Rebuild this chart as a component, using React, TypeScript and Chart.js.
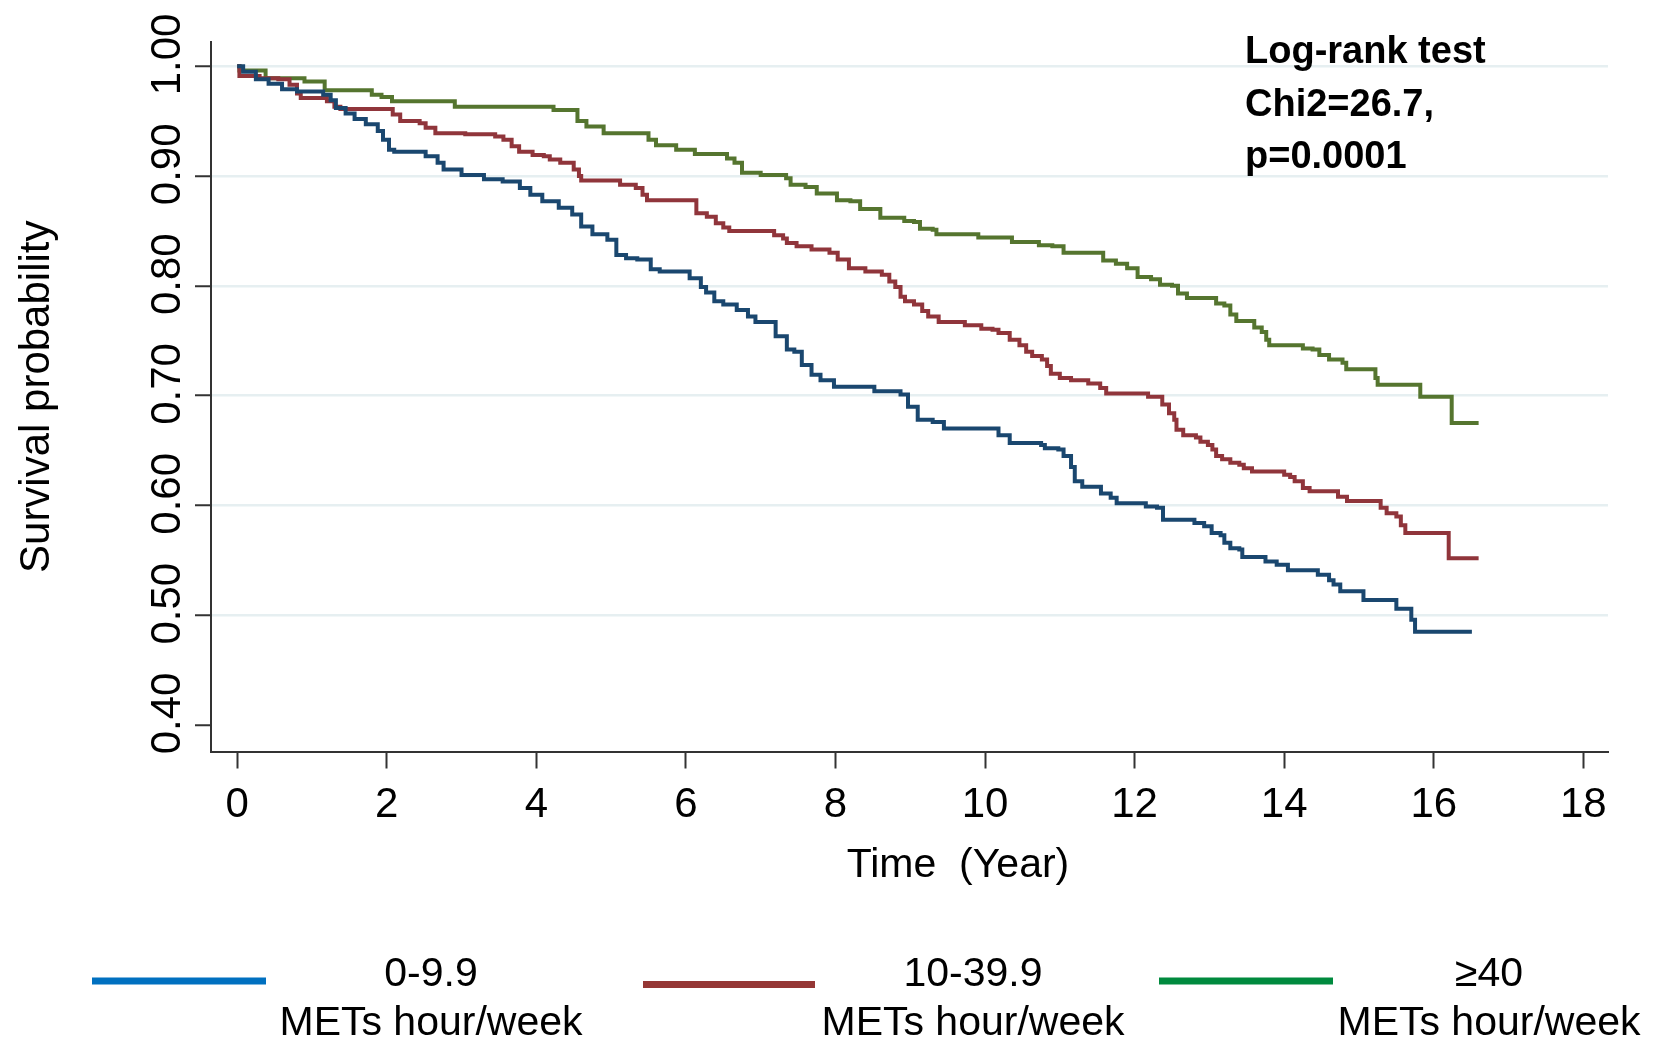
import React, { useEffect, useRef } from 'react';
import { Chart, registerables } from 'chart.js';

Chart.register(...registerables);

const xTickValues = [0, 2, 4, 6, 8, 10, 12, 14, 16, 18];
const yTickValues = [0.4, 0.5, 0.6, 0.7, 0.8, 0.9, 1.0];

const groupRanges = ['0-9.9', '10-39.9', '≥40'];
const unitLabel = 'METs hour/week';
const statLines = ['Log-rank test', 'Chi2=26.7,', 'p=0.0001'];
const xTitle = 'Time  (Year)';
const yTitle = 'Survival probability';

// Group 0-9.9 METs hour/week
const lowTimes = [0, 0.08, 0.25, 0.42, 0.6, 0.8, 1.15, 1.25, 1.32, 1.45, 1.57, 1.72, 1.88, 1.95, 2.03, 2.1, 2.52, 2.68, 2.76, 3.0, 3.3, 3.55, 3.78, 3.92, 4.08, 4.3, 4.48, 4.6, 4.75, 4.95, 5.07, 5.2, 5.35, 5.53, 5.65, 6.05, 6.2, 6.27, 6.38, 6.5, 6.68, 6.83, 6.93, 7.2, 7.35, 7.45, 7.55, 7.68, 7.8, 7.98, 8.52, 8.87, 8.97, 9.1, 9.3, 9.45, 10.18, 10.33, 10.75, 10.8, 10.98, 11.05, 11.15, 11.2, 11.3, 11.55, 11.68, 11.76, 12.15, 12.3, 12.38, 12.8, 12.93, 13.03, 13.15, 13.2, 13.28, 13.4, 13.44, 13.75, 13.9, 14.05, 14.45, 14.6, 14.66, 14.75, 15.06, 15.5, 15.7, 15.75, 16.51];
const lowSurv = [1.0, 0.995, 0.988, 0.984, 0.979, 0.977, 0.974, 0.969, 0.962, 0.957, 0.952, 0.947, 0.941, 0.933, 0.924, 0.922, 0.918, 0.912, 0.906, 0.901, 0.897, 0.895, 0.889, 0.883, 0.877, 0.871, 0.865, 0.854, 0.847, 0.842, 0.828, 0.825, 0.824, 0.815, 0.813, 0.807, 0.799, 0.794, 0.786, 0.783, 0.778, 0.772, 0.767, 0.754, 0.742, 0.74, 0.728, 0.719, 0.714, 0.708, 0.704, 0.701, 0.69, 0.678, 0.676, 0.67, 0.664, 0.657, 0.655, 0.652, 0.651, 0.645, 0.635, 0.622, 0.617, 0.611, 0.607, 0.602, 0.599, 0.598, 0.587, 0.584, 0.581, 0.575, 0.573, 0.566, 0.561, 0.56, 0.553, 0.549, 0.546, 0.541, 0.537, 0.532, 0.528, 0.522, 0.514, 0.506, 0.496, 0.485, 0.485];

// Group 10-39.9 METs hour/week
const midTimes = [0, 0.03, 0.3, 0.55, 0.7, 0.8, 0.85, 1.2, 1.3, 1.38, 2.08, 2.18, 2.44, 2.52, 2.65, 3.05, 3.45, 3.56, 3.67, 3.77, 3.95, 4.1, 4.18, 4.32, 4.5, 4.57, 4.6, 5.12, 5.33, 5.42, 5.48, 6.14, 6.28, 6.4, 6.5, 6.58, 7.18, 7.3, 7.35, 7.48, 7.68, 7.92, 8.03, 8.18, 8.4, 8.62, 8.72, 8.8, 8.87, 8.93, 9.05, 9.16, 9.24, 9.38, 9.73, 9.95, 10.1, 10.18, 10.33, 10.46, 10.55, 10.63, 10.76, 10.83, 10.88, 11.0, 11.15, 11.38, 11.54, 11.62, 12.18, 12.37, 12.46, 12.53, 12.56, 12.65, 12.82, 12.88, 12.98, 13.04, 13.09, 13.17, 13.28, 13.4, 13.46, 13.57, 14.0, 14.08, 14.14, 14.25, 14.34, 14.72, 14.84, 15.29, 15.37, 15.5, 15.56, 15.62, 16.2, 16.6];
const midSurv = [1.0, 0.991, 0.989, 0.988, 0.983, 0.975, 0.971, 0.968, 0.963, 0.961, 0.956, 0.95, 0.948, 0.944, 0.939, 0.938, 0.936, 0.933, 0.927, 0.922, 0.919, 0.918, 0.915, 0.912, 0.906, 0.9, 0.896, 0.892, 0.889, 0.883, 0.878, 0.866, 0.863, 0.857, 0.853, 0.85, 0.846, 0.843, 0.839, 0.836, 0.833, 0.83, 0.824, 0.816, 0.813, 0.81, 0.804, 0.799, 0.79, 0.786, 0.783, 0.777, 0.772, 0.767, 0.764, 0.761, 0.76, 0.757, 0.751, 0.746, 0.74, 0.736, 0.733, 0.727, 0.72, 0.716, 0.714, 0.711, 0.707, 0.702, 0.699, 0.692, 0.684, 0.678, 0.669, 0.664, 0.662, 0.658, 0.655, 0.651, 0.645, 0.642, 0.639, 0.637, 0.634, 0.631, 0.628, 0.626, 0.622, 0.616, 0.613, 0.608, 0.604, 0.598, 0.593, 0.59, 0.582, 0.575, 0.552, 0.552];

// Group >=40 METs hour/week
const highTimes = [0, 0.03, 0.38, 0.9, 1.17, 1.8, 1.93, 2.07, 2.91, 4.23, 4.55, 4.67, 4.9, 5.5, 5.6, 5.87, 6.12, 6.55, 6.65, 6.75, 7.0, 7.34, 7.4, 7.6, 7.75, 8.02, 8.2, 8.33, 8.6, 8.92, 9.05, 9.13, 9.3, 9.35, 9.91, 10.36, 10.72, 10.9, 11.05, 11.58, 11.75, 11.9, 12.04, 12.22, 12.34, 12.5, 12.58, 12.7, 13.09, 13.2, 13.28, 13.36, 13.6, 13.7, 13.76, 13.8, 14.25, 14.38, 14.47, 14.6, 14.78, 14.83, 15.22, 15.25, 15.82, 16.24, 16.6];
const highSurv = [1.0, 0.996, 0.989, 0.986, 0.978, 0.974, 0.972, 0.968, 0.963, 0.96, 0.95, 0.945, 0.939, 0.933, 0.928, 0.924, 0.92, 0.916, 0.912, 0.903, 0.901, 0.898, 0.892, 0.89, 0.884, 0.878, 0.877, 0.87, 0.862, 0.859, 0.858, 0.852, 0.851, 0.847, 0.844, 0.84, 0.837, 0.836, 0.83, 0.823, 0.82, 0.816, 0.808, 0.806, 0.801, 0.8, 0.793, 0.789, 0.784, 0.782, 0.774, 0.768, 0.762, 0.758, 0.751, 0.746, 0.743, 0.742, 0.737, 0.733, 0.73, 0.724, 0.716, 0.71, 0.699, 0.675, 0.675];

const lineColors = ['#1A476F', '#90353B', '#55752F'];
const legendColors = ['#0070C0', '#953735', '#008A3E'];

const FONT = '"Liberation Sans", Arial, sans-serif';

const toPoints = (ts: number[], ss: number[]) => ts.map((t, i) => ({ x: t, y: ss[i] }));

const overlayPlugin = {
  id: 'overlayText',
  afterDraw(chart: any) {
    const ctx = chart.ctx as CanvasRenderingContext2D;
    ctx.save();
    ctx.fillStyle = '#000';
    // log-rank annotation
    ctx.font = `bold 38px ${FONT}`;
    ctx.textAlign = 'left';
    ctx.textBaseline = 'alphabetic';
    statLines.forEach((s, i) => ctx.fillText(s, 1245, 63 + i * 52.7));
    // x axis title
    ctx.font = `41px ${FONT}`;
    ctx.textAlign = 'center';
    ctx.fillText(xTitle, 958, 877);
    // legend
    const lineX = [[92, 266], [643, 815], [1159, 1333]];
    const lineY = [981, 984.5, 981];
    const textX = [431, 973, 1489];
    groupRanges.forEach((g, i) => {
      ctx.strokeStyle = legendColors[i];
      ctx.lineWidth = 7;
      ctx.beginPath();
      ctx.moveTo(lineX[i][0], lineY[i]);
      ctx.lineTo(lineX[i][1], lineY[i]);
      ctx.stroke();
      ctx.fillStyle = '#000';
      ctx.font = `41px ${FONT}`;
      ctx.textAlign = 'center';
      ctx.fillText(g, textX[i], 986);
      ctx.fillText(unitLabel, textX[i], 1035);
    });
    ctx.restore();
  },
};

export default function App() {
  const canvasRef = useRef<HTMLCanvasElement | null>(null);

  useEffect(() => {
    if (!canvasRef.current) return;
    Chart.defaults.font.family = FONT;
    Chart.defaults.color = '#000';
    const series = [
      { t: lowTimes, s: lowSurv },
      { t: midTimes, s: midSurv },
      { t: highTimes, s: highSurv },
    ];
    const chart = new Chart(canvasRef.current, {
      type: 'line',
      data: {
        datasets: series.map((sr, i) => ({
          label: `${groupRanges[i]} ${unitLabel}`,
          data: toPoints(sr.t, sr.s),
          borderColor: lineColors[i],
          backgroundColor: lineColors[i],
          borderWidth: 4,
          pointRadius: 0,
          stepped: 'before' as const,
          fill: false,
        })),
      },
      plugins: [overlayPlugin],
      options: {
        animation: false,
        responsive: true,
        maintainAspectRatio: false,
        layout: { padding: { top: 42, right: 45, left: 0, bottom: 0 } },
        plugins: {
          legend: { display: false },
          tooltip: { enabled: false },
        },
        scales: {
          x: {
            type: 'linear',
            min: -0.35,
            max: 18.33,
            afterFit: (scale: any) => {
              scale.height = 291.5;
            },
            afterBuildTicks: (scale: any) => {
              scale.ticks = xTickValues.map((v) => ({ value: v }));
            },
            ticks: {
              font: { size: 42 },
              color: '#000',
              padding: 12,
              maxRotation: 0,
              autoSkip: false,
              callback: (v: any) => String(v),
            },
            grid: {
              drawOnChartArea: false,
              drawTicks: true,
              tickLength: 17,
              tickWidth: 2,
              tickColor: '#333',
            },
            border: { display: true, color: '#333', width: 2 },
            title: { display: false },
          },
          y: {
            type: 'linear',
            min: 0.376,
            max: 1.022,
            afterFit: (scale: any) => {
              scale.width = 211;
            },
            afterBuildTicks: (scale: any) => {
              scale.ticks = yTickValues.map((v) => ({ value: v }));
            },
            ticks: {
              font: { size: 42 },
              color: '#000',
              minRotation: 90,
              maxRotation: 90,
              crossAlign: 'center',
              padding: -26,
              autoSkip: false,
              callback: (v: any) => '  ' + Number(v).toFixed(2),
            },
            grid: {
              color: (c: any) => (c.tick && Math.abs(c.tick.value - 0.4) < 1e-6 ? 'rgba(0,0,0,0)' : '#E6EFF1'),
              lineWidth: 2.5,
              drawTicks: true,
              tickLength: 16,
              tickWidth: 2,
              tickColor: '#333',
            },
            border: { display: true, color: '#333', width: 2 },
            title: {
              display: true,
              text: yTitle,
              font: { size: 42 },
              color: '#000',
              padding: { top: 12, bottom: 0 },
            },
          },
        },
      },
    });
    return () => chart.destroy();
  }, []);

  return (
    <div style={{ position: 'fixed', left: 0, top: 0, width: 1653, height: 1043, background: '#fff' }}>
      <canvas ref={canvasRef} />
    </div>
  );
}
